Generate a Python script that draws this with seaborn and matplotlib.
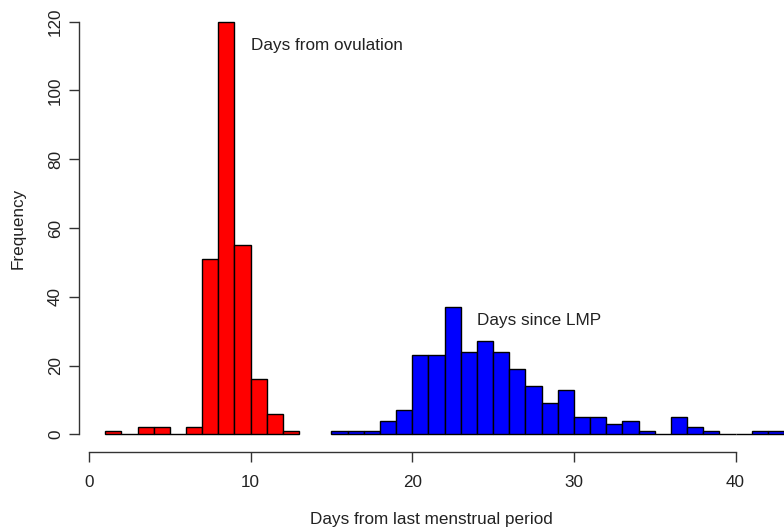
import numpy as np
import pandas as pd
import matplotlib
matplotlib.use("Agg")
import matplotlib.pyplot as plt
import seaborn as sns

# Days from ovulation (red), bins of 1 day starting at day 1
ovu_start = 1
ovu_counts = [1, 0, 2, 2, 0, 2, 51, 120, 55, 16, 6, 1]

# Days since LMP (blue), bins of 1 day starting at day 15
lmp_start = 15
lmp_counts = [1, 1, 1, 4, 7, 23, 23, 37, 24, 27, 24, 19, 14, 9, 13,
              5, 5, 3, 4, 1, 0, 5, 2, 1, 0, 0, 1, 1]

x_ticks = [0, 10, 20, 30, 40]
y_ticks = [0, 20, 40, 60, 80, 100, 120]

sns.set_style("white")
plt.rcParams['font.family'] = ['Liberation Sans', 'DejaVu Sans']

FS = 12.3
W, H = 784, 527
fig = plt.figure(figsize=(W / 100, H / 100), dpi=100)
left, right, bottom, top = 79, 784, 452, 5.2
ax = fig.add_axes([left / W, (H - bottom) / H, (right - left) / W, (bottom - top) / H])

def make_df(start, counts):
    edges = [float(start + i) for i in range(len(counts) + 1)]
    centers = [e + 0.5 for e in edges[:-1]]
    return pd.DataFrame({"day": centers, "n": counts}), edges

df_o, e_o = make_df(ovu_start, ovu_counts)
df_l, e_l = make_df(lmp_start, lmp_counts)

sns.histplot(data=df_o, x="day", weights="n", bins=e_o, ax=ax,
             color="#FF0000", alpha=1, edgecolor="black", linewidth=1.0)
sns.histplot(data=df_l, x="day", weights="n", bins=e_l, ax=ax,
             color="#0000FF", alpha=1, edgecolor="black", linewidth=1.0)

ax.set_xlim(-0.62, 43.0)
ax.set_ylim(-5.15, 124.8)

for s in ["top", "right"]:
    ax.spines[s].set_visible(False)
ax.spines["left"].set_bounds(0, 120)
ax.spines["bottom"].set_bounds(0, 40)
for s in ["left", "bottom"]:
    ax.spines[s].set_color("#333333")
    ax.spines[s].set_linewidth(1.0)

ax.set_xticks(x_ticks)
ax.set_yticks(y_ticks)
ax.set_xticklabels([str(v) for v in x_ticks])
ax.set_yticklabels([str(v) for v in y_ticks], rotation=90, va="center")
ax.tick_params(axis="both", direction="out", length=7.5, width=1.0,
               bottom=True, left=True,
               color="#333333", labelsize=FS, labelcolor="#222222")
ax.tick_params(axis="x", pad=9)
ax.tick_params(axis="y", pad=4)

ax.set_xlabel("Days from last menstrual period", fontsize=FS, color="#222222", labelpad=16)
ax.set_ylabel("Frequency", fontsize=FS, color="#222222", labelpad=16)

ax.text(10.0, 113, "Days from ovulation", fontsize=FS, ha="left", va="center", color="#222222")
ax.text(24.0, 33, "Days since LMP", fontsize=FS, ha="left", va="center", color="#222222")

fig.savefig("out.png", dpi=100)
